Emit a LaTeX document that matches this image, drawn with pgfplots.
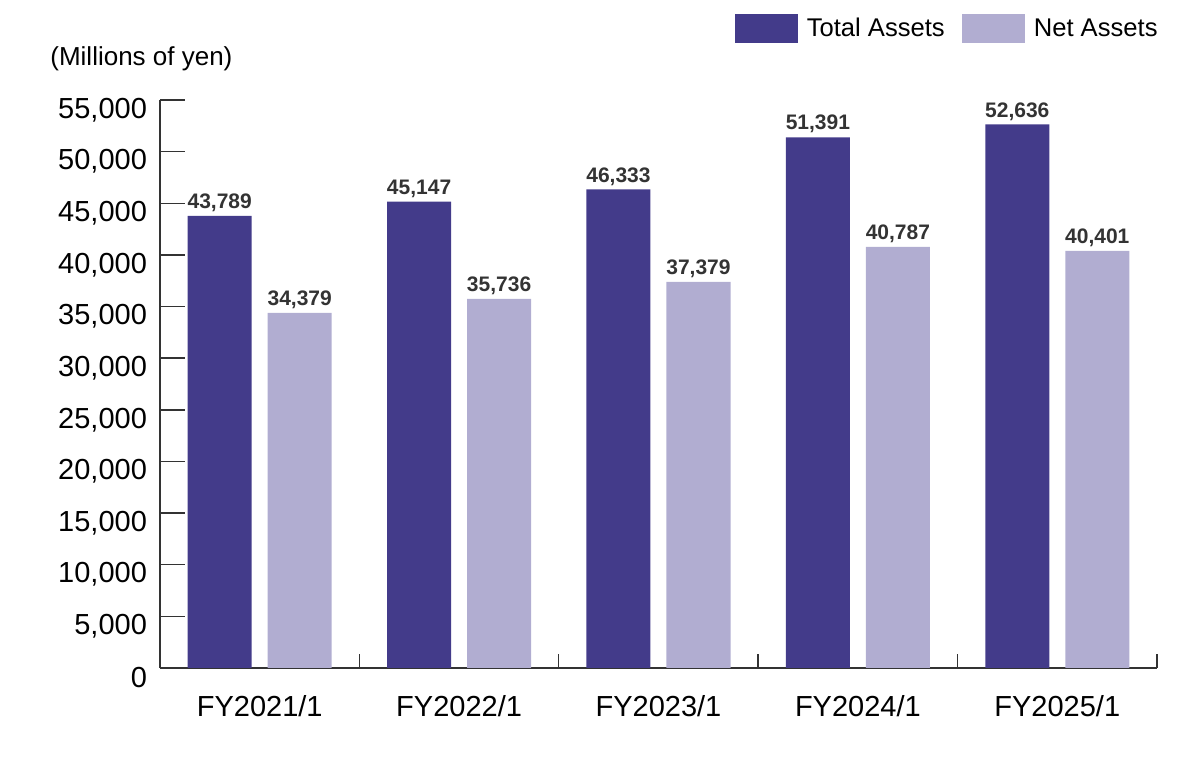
\documentclass[border=0pt]{standalone}
\usepackage{pgfplots}
\pgfplotsset{compat=1.18}
\usepackage{fontspec}
\setmainfont{Liberation Sans}

\definecolor{totalc}{HTML}{433B8A}
\definecolor{netc}{HTML}{B1ADD1}
\definecolor{axisc}{HTML}{333333}

\begin{document}
\begin{tikzpicture}
\begin{axis}[
    scale only axis,
    width=498.5pt, height=284pt,
    ybar=8pt, bar width=32pt,
    xmin=-0.5, xmax=4.5,
    ymin=0, ymax=55000,
    axis x line=bottom, axis y line=left,
    axis line style={-, draw=axisc, line width=0.7pt},
    tick align=inside,
    major tick length=7pt,
    tick style={draw=axisc, line width=0.7pt},
    xtick={-0.5,0.5,...,4.5},
    x tick label as interval,
    xticklabels={FY2021/1,FY2022/1,FY2023/1,FY2024/1,FY2025/1},
    ytick=\empty,
    extra y ticks={0,5000,...,55000},
    extra y tick style={major tick length=12.5pt},
    scaled ticks=false,
    /pgf/number format/.cd, 1000 sep={,}, assume math mode=true, /pgfplots/.cd,
    ticklabel style={font=\fontsize{14.5}{16}\selectfont},
    yticklabel style={xshift=-3pt, yshift=-5pt},
    xticklabel style={yshift=-10pt},
    nodes near coords,
    every node near coord/.append style={font=\bfseries\fontsize{10.5}{12}\selectfont, text=axisc, yshift=-1.5pt},
    legend columns=2,
    legend style={at={(1,1)}, anchor=south east, yshift=28pt, xshift=2.5pt, draw=none, fill=none,
        font=\fontsize{12.8}{14}\selectfont, inner sep=0pt,
        /tikz/every odd column/.append style={column sep=2.5pt},
        /tikz/every even column/.append style={column sep=6.5pt}},
    legend image code/.code={\fill[#1, draw=none] (0pt,-7.25pt) rectangle (31.5pt,7.25pt);},
    clip=false,
]
\addplot[fill=totalc, draw=none] coordinates {(0,43789) (1,45147) (2,46333) (3,51391) (4,52636)};
\addplot[fill=netc, draw=none] coordinates {(0,34379) (1,35736) (2,37379) (3,40787) (4,40401)};
\legend{Total Assets, Net Assets}
\node[anchor=west, font=\fontsize{13}{15}\selectfont, inner sep=0pt] at (rel axis cs:0,1) [xshift=-55pt, yshift=20.5pt] {(Millions of yen)};
\path (rel axis cs:0,0) ++(-80pt,-47.5pt) rectangle ++(600pt,381.5pt);
\end{axis}
\end{tikzpicture}
\end{document}
